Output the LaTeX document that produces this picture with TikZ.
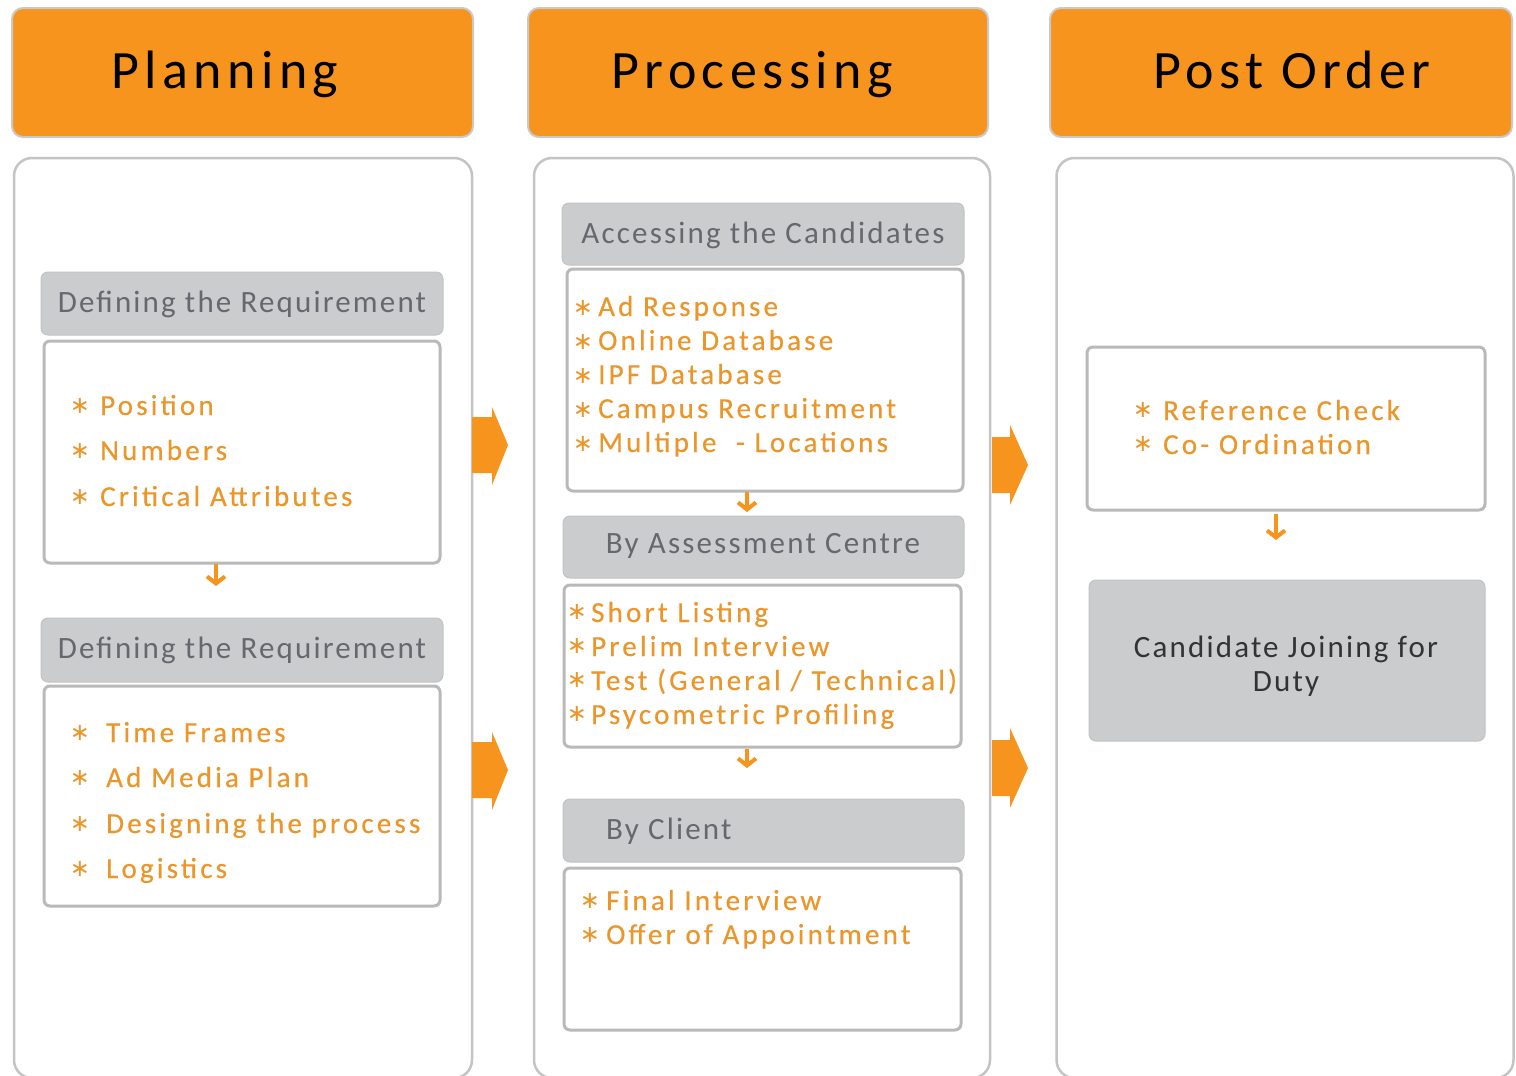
\documentclass[tikz,border=0pt]{standalone}
\usepackage{fontspec}
\usetikzlibrary{arrows.meta}
\setmainfont{Carlito}
\newfontfamily\hdrfont[LetterSpace=10]{Carlito}
\newfontfamily\itmfont[LetterSpace=11,FakeBold=0.4]{Carlito}
\newfontfamily\gryfont[LetterSpace=7]{Carlito}
\newfontfamily\symfont{DejaVu Sans}
\definecolor{orangefill}{HTML}{F7941D}
\definecolor{hdrline}{HTML}{C9C9C9}
\definecolor{panelline}{HTML}{C4C4C4}
\definecolor{boxline}{HTML}{B9B9B9}
\definecolor{grayfill}{HTML}{CBCCCE}
\definecolor{grayline}{HTML}{C2C3C5}
\definecolor{graytext}{HTML}{65686D}
\definecolor{darktext}{HTML}{333333}
\definecolor{itemtext}{HTML}{EA962A}
\tikzset{
  hdrbox/.style={draw=hdrline, line width=2pt, fill=orangefill, rounded corners=11pt, inner sep=0pt},
  panelbox/.style={draw=panelline, line width=2.5pt, fill=white, rounded corners=18pt, inner sep=0pt},
  graybox/.style={draw=grayline, line width=1pt, fill=grayfill, rounded corners=7pt, inner sep=0pt},
  whitebox/.style={draw=boxline, line width=3pt, fill=white, rounded corners=6pt, inner sep=0pt},
  hdrtext/.style={font=\hdrfont\fontsize{54}{60}\selectfont, text=black, inner sep=0pt, anchor=base},
  graytxt/.style={font=\gryfont\fontsize{31}{34}\selectfont, text=graytext, inner sep=0pt},
  darktxt/.style={font=\gryfont\fontsize{31}{34}\selectfont, text=darktext, inner sep=0pt, align=center},
  itemtxt/.style={font=\itmfont\fontsize{29}{30}\selectfont, text=itemtext, inner sep=0pt, anchor=base west},
  astx/.style={font=\symfont\fontsize{24}{24}\selectfont, text=itemtext, inner sep=0pt},
  bigarrow/.style={fill=orangefill},
  smallarrow/.style={draw=orangefill, line width=4pt, -{Straight Barb[length=7pt,width=18pt]}}
}
\begin{document}
\begin{tikzpicture}[x=1pt,y=-1pt]
\useasboundingbox (0,0) rectangle (1516,1076);
\clip (0,0) rectangle (1516,1076);
\fill[white] (0,0) rectangle (1516,1076);

% headers
\node[hdrbox, minimum width=461pt, minimum height=129pt] (h1) at (242.5,72.5) {};
\node[hdrbox, minimum width=460pt, minimum height=129pt] (h2) at (758,72.5) {};
\node[hdrbox, minimum width=462pt, minimum height=129pt] (h3) at (1281,72.5) {};
\node[hdrtext] (h1t) at (225,88) {Planning};
\node[hdrtext] (h2t) at (752,88) {Processing};
\node[hdrtext] (h3t) at (1292,88) {Post Order};

% panels
\node[panelbox, minimum width=458pt, minimum height=920pt] (p1) at (243,618) {};
\node[panelbox, minimum width=456pt, minimum height=920pt] (p2) at (762,618) {};
\node[panelbox, minimum width=457pt, minimum height=920pt] (p3) at (1285,618) {};

% ---------- Planning column
\node[graybox, minimum width=402pt, minimum height=63pt] (g1) at (242,303.5) {};
\node[graytxt] (g1t) at (242,304) {Defining the Requirement};
\node[whitebox, minimum width=396pt, minimum height=222pt] (w1) at (242,452) {};
\node[astx] (a11) at (80,406) {∗};
\node[itemtxt] (t11) at (100,415) {Position};
\node[astx] (a12) at (80,451) {∗};
\node[itemtxt] (t12) at (100,460) {Numbers};
\node[astx] (a13) at (80,497) {∗};
\node[itemtxt] (t13) at (100,506) {Critical Attributes};

\coordinate (s1a) at (216,564);
\coordinate (s1b) at (216,586);
\draw[smallarrow] (s1a) -- (s1b);

\node[graybox, minimum width=402pt, minimum height=64pt] (g2) at (242,650) {};
\node[graytxt] (g2t) at (242,650) {Defining the Requirement};
\node[whitebox, minimum width=396pt, minimum height=220pt] (w2) at (242,796) {};
\node[astx] (a21) at (80,733) {∗};
\node[itemtxt] (t21) at (106,742) {Time Frames};
\node[astx] (a22) at (80,778) {∗};
\node[itemtxt] (t22) at (106,787) {Ad Media Plan};
\node[astx] (a23) at (80,824) {∗};
\node[itemtxt] (t23) at (106,833) {Designing the process};
\node[astx] (a24) at (80,869) {∗};
\node[itemtxt] (t24) at (106,878) {Logistics};

% ---------- Processing column
\node[graybox, minimum width=402pt, minimum height=62pt] (g3) at (763,234) {};
\node[graytxt] (g3t) at (763,235) {Accessing the Candidates};
\node[whitebox, minimum width=396pt, minimum height=222pt] (w3) at (765,380) {};
\node[astx] (a31) at (583,308) {∗};
\node[itemtxt] (t31) at (598,316) {Ad Response};
\node[astx] (a32) at (583,342) {∗};
\node[itemtxt] (t32) at (598,350) {Online Database};
\node[astx] (a33) at (583,376) {∗};
\node[itemtxt] (t33) at (598,384) {IPF Database};
\node[astx] (a34) at (583,410) {∗};
\node[itemtxt] (t34) at (598,418) {Campus Recruitment};
\node[astx] (a35) at (583,444) {∗};
\node[itemtxt] (t35) at (598,452) {Multiple\ \ - Locations};

\coordinate (s2a) at (747,492);
\coordinate (s2b) at (747,512);
\draw[smallarrow] (s2a) -- (s2b);

\node[graybox, minimum width=401pt, minimum height=62pt] (g4) at (763.5,547) {};
\node[graytxt] (g4t) at (763,546) {By Assessment Centre};
\node[whitebox, minimum width=397pt, minimum height=162pt] (w4) at (762.5,666) {};
\node[astx] (a41) at (577,612) {∗};
\node[itemtxt] (t41) at (591,622) {Short Listing};
\node[astx] (a42) at (577,646) {∗};
\node[itemtxt] (t42) at (591,656) {Prelim Interview};
\node[astx] (a43) at (577,680) {∗};
\node[itemtxt] (t43) at (591,690) {Test (General / Technical)};
\node[astx] (a44) at (577,714) {∗};
\node[itemtxt] (t44) at (591,724) {Psycometric Profiling};

\coordinate (s3a) at (747,749);
\coordinate (s3b) at (747,768);
\draw[smallarrow] (s3a) -- (s3b);

\node[graybox, minimum width=401pt, minimum height=63pt] (g5) at (763.5,830.5) {};
\node[graytxt, anchor=west] (g5t) at (606,831) {By Client};
\node[whitebox, minimum width=397pt, minimum height=162pt] (w5) at (762.5,949) {};
\node[astx] (a51) at (590,901) {∗};
\node[itemtxt] (t51) at (606,910) {Final Interview};
\node[astx] (a52) at (590,935) {∗};
\node[itemtxt] (t52) at (606,944) {Offer of Appointment};

% ---------- Post Order column
\node[whitebox, minimum width=398pt, minimum height=163pt] (w6) at (1286,428.5) {};
\node[astx] (a61) at (1143,410) {∗};
\node[itemtxt] (t61) at (1163,420) {Reference Check};
\node[astx] (a62) at (1143,444) {∗};
\node[itemtxt] (t62) at (1163,454) {Co- Ordination};

\coordinate (s4a) at (1276,514);
\coordinate (s4b) at (1276,540);
\draw[smallarrow] (s4a) -- (s4b);

\node[graybox, minimum width=396pt, minimum height=161pt] (g6) at (1287,660.5) {};
\node[darktxt] (g6t) at (1286,666) {Candidate Joining for\\Duty};

% ---------- big arrows
\fill[bigarrow] (472,417) -- (492,417) -- (492,407) -- (508,445) -- (492,485) -- (492,473) -- (472,473) -- cycle;
\fill[bigarrow] (472,742) -- (492,742) -- (492,732) -- (508,770) -- (492,810) -- (492,798) -- (472,798) -- cycle;
\fill[bigarrow] (992,437) -- (1010,437) -- (1010,425) -- (1028,465) -- (1010,505) -- (1010,493) -- (992,493) -- cycle;
\fill[bigarrow] (992,740) -- (1010,740) -- (1010,728) -- (1028,768) -- (1010,808) -- (1010,796) -- (992,796) -- cycle;
\end{tikzpicture}
\end{document}
